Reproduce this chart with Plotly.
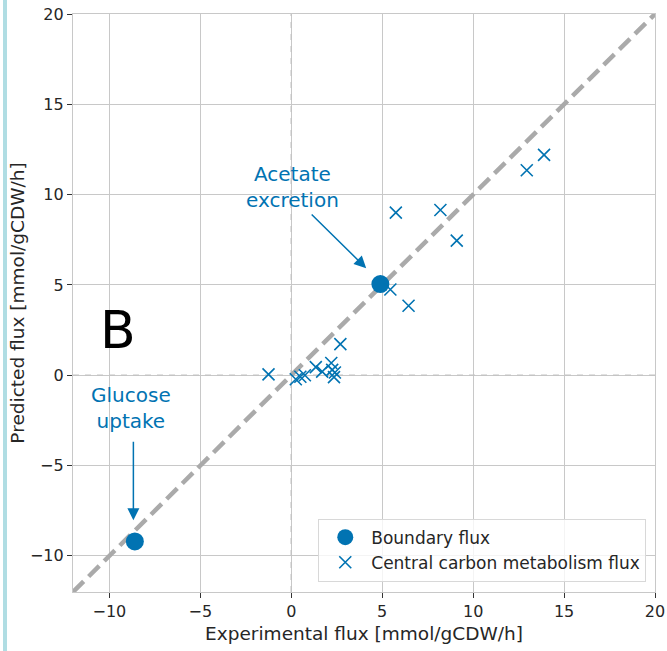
import plotly.graph_objects as go

# Data
boundary_x = [-8.6, 4.9]
boundary_y = [-9.2, 5.05]
central_x = [13.9, 12.95, 5.75, 8.2, 9.1, 5.45, 6.45, 2.7, -1.25, 0.25, 0.5, 0.75, 1.35, 1.7, 2.2, 2.25, 2.4, 2.35]
central_y = [12.2, 11.35, 9.0, 9.15, 7.45, 4.75, 3.85, 1.72, 0.05, -0.22, -0.08, 0.0, 0.45, 0.2, 0.68, 0.3, 0.15, -0.1]
diag = [-12, 20]
xticks = [-10, -5, 0, 5, 10, 15, 20]
yticks = [-10, -5, 0, 5, 10, 15, 20]

BLUE = "#0173B2"
FONT = "DejaVu Sans"

fig = go.Figure()
fig.add_trace(go.Scatter(x=diag, y=[0, 0], mode="lines", line=dict(color="#c4c4c4", width=1.5, dash="6px,6px"),
                         showlegend=False, hoverinfo="skip"))
fig.add_trace(go.Scatter(x=[0, 0], y=diag, mode="lines", line=dict(color="#c4c4c4", width=1.5, dash="6px,6px"),
                         showlegend=False, hoverinfo="skip"))
fig.add_trace(go.Scatter(x=diag, y=diag, mode="lines", line=dict(color="#aaaaaa", width=4.5, dash="15px,7px"),
                         showlegend=False, hoverinfo="skip"))
fig.add_trace(go.Scatter(x=boundary_x, y=boundary_y, mode="markers", name="Boundary flux",
                         marker=dict(color=BLUE, size=18, symbol="circle")))
fig.add_trace(go.Scatter(x=central_x, y=central_y, mode="markers", name="Central carbon metabolism flux",
                         marker=dict(color=BLUE, size=12, symbol="x-thin", line=dict(color=BLUE, width=1.6))))

ann = []
ann.append(dict(x=0.05, y=10.45, xref="x", yref="y", text="Acetate<br>excretion", showarrow=False,
                font=dict(family=FONT, size=20, color=BLUE)))
ann.append(dict(x=-8.8, y=-1.8, xref="x", yref="y", text="Glucose<br>uptake", showarrow=False,
                font=dict(family=FONT, size=20, color=BLUE)))
ann.append(dict(x=4.12, y=5.93, ax=1.04, ay=8.98, xref="x", yref="y", axref="x", ayref="y", text="",
                showarrow=True, arrowhead=2, arrowsize=1.6, arrowwidth=1.5, arrowcolor=BLUE))
ann.append(dict(x=-8.68, y=-8.03, ax=-8.68, ay=-3.6, xref="x", yref="y", axref="x", ayref="y", text="",
                showarrow=True, arrowhead=2, arrowsize=1.6, arrowwidth=1.5, arrowcolor=BLUE))
ann.append(dict(x=-9.5, y=2.5, xref="x", yref="y", text="B", showarrow=False,
                font=dict(family=FONT, size=52, color="black")))

fig.update_layout(
    width=667, height=651,
    margin=dict(l=73, r=12, t=14, b=59),
    paper_bgcolor="white", plot_bgcolor="white",
    font=dict(family=FONT, size=16, color="#262626"),
    annotations=ann,
    legend=dict(x=0.985, y=0.018, xanchor="right", yanchor="bottom", bordercolor="#d8d8d8", borderwidth=1,
                bgcolor="rgba(255,255,255,0.8)", font=dict(family=FONT, size=17, color="#262626"),
                tracegroupgap=0, itemwidth=42),
    shapes=[dict(type="line", xref="paper", yref="paper",
                 x0=-(73 - 5) / 582, x1=-(73 - 5) / 582, y0=-59 / 578, y1=(578 + 14) / 578,
                 line=dict(color="#b0dde3", width=4))],
)
fig.update_xaxes(range=[-12, 20], tickvals=xticks, showgrid=True, gridcolor="#c8c8c8", gridwidth=1.3,
                 zeroline=False, showline=True, mirror=True, linecolor="#c8c8c8", linewidth=1.3,
                 ticks="outside", ticklen=5, tickcolor="#333", tickwidth=1.2, automargin=False,
                 title=dict(text="Experimental flux [mmol/gCDW/h]", font=dict(size=18.5), standoff=6),
                 tickfont=dict(size=16))
fig.update_yaxes(range=[-12, 20], tickvals=yticks, showgrid=True, gridcolor="#c8c8c8", gridwidth=1.3,
                 zeroline=False, showline=True, mirror=True, linecolor="#c8c8c8", linewidth=1.3,
                 ticks="outside", ticklen=5, tickcolor="#333", tickwidth=1.2, automargin=False,
                 title=dict(text="Predicted flux [mmol/gCDW/h]", font=dict(size=18.5), standoff=0),
                 tickfont=dict(size=16))

fig.write_html("out.html")
